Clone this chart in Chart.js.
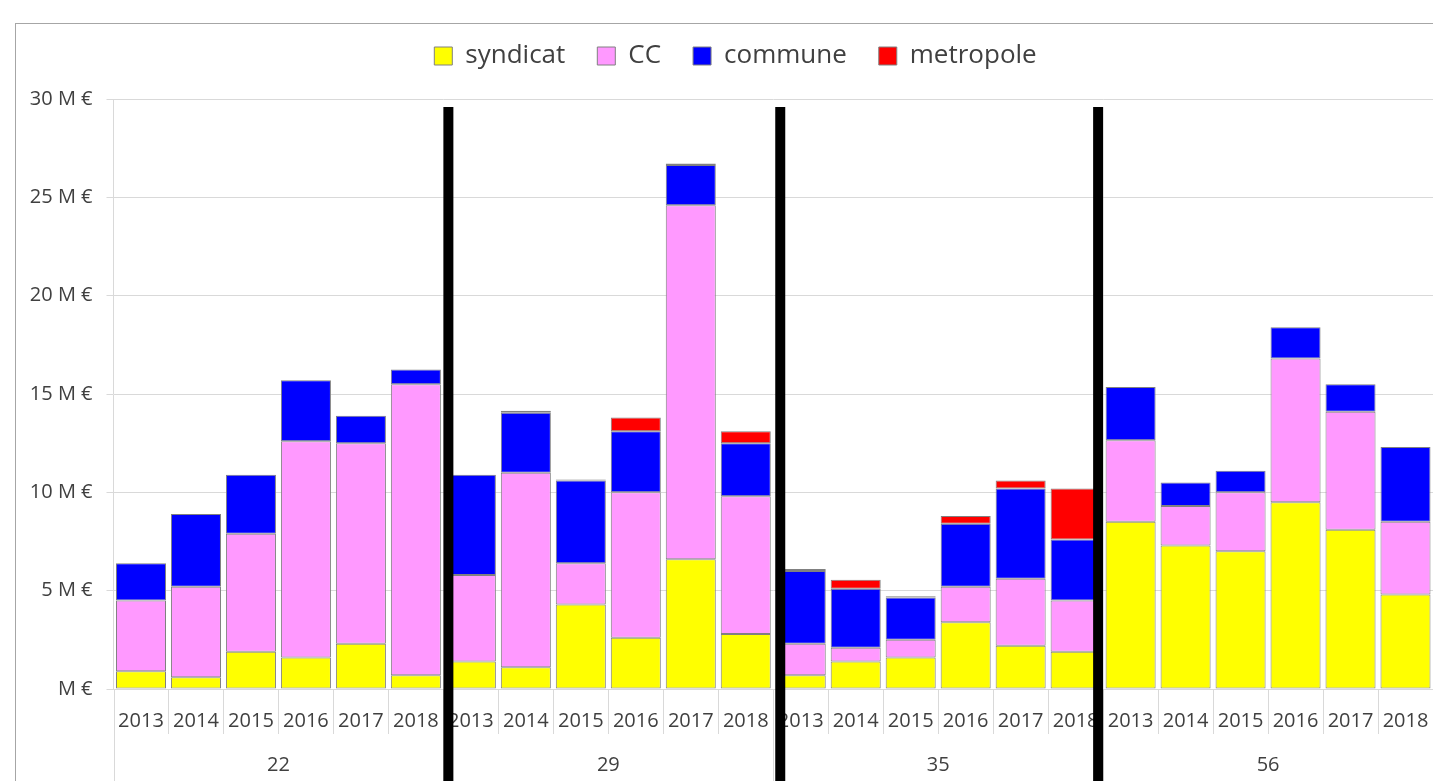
<!DOCTYPE html>
<html>
<head>
<meta charset="utf-8">
<title>Montants par département</title>
<script src="https://cdn.jsdelivr.net/npm/chart.js@4/dist/chart.umd.min.js"></script>
<style>
  html, body { margin: 0; padding: 0; background: #fff; overflow: hidden; }
  #frame { position: absolute; left: 15px; top: 23px; right: 0; bottom: 0;
           border-left: 1px solid #a6a6a6; border-top: 1px solid #a6a6a6; }
  #wrap { position: absolute; left: 0; top: 0; width: 1433px; height: 781px; }
</style>
</head>
<body>
<div id="frame"></div>
<div id="wrap"><canvas id="chart" width="1433" height="781"></canvas></div>
<script>
(function () {
  'use strict';

  // departements et annees
  var groups = ['22', '29', '35', '56'];
  var years = ['2013', '2014', '2015', '2016', '2017', '2018'];

  // montants en M € (22 | 29 | 35 | 56)
  var syndicat = [0.9, 0.6, 1.9, 1.6, 2.3, 0.7,
                  1.4, 1.1, 4.3, 2.6, 6.6, 2.8,
                  0.7, 1.4, 1.6, 3.4, 2.2, 1.9,
                  8.5, 7.3, 7.0, 9.5, 8.1, 4.8];
  var cc = [3.6, 4.6, 6.0, 11.0, 10.2, 14.8,
            4.4, 9.9, 2.1, 7.4, 18.0, 7.0,
            1.6, 0.7, 0.9, 1.8, 3.4, 2.6,
            4.15, 2.0, 3.0, 7.3, 6.0, 3.7];
  var commune = [1.9, 3.7, 3.0, 3.1, 1.4, 0.75,
                 5.1, 3.05, 4.2, 3.1, 2.05, 2.7,
                 3.7, 3.0, 2.15, 3.2, 4.6, 3.1,
                 2.7, 1.2, 1.1, 1.6, 1.4, 3.8];
  var metropole = [null, null, null, null, null, null,
                   null, 0.1, 0.05, 0.7, 0.07, 0.6,
                   0.1, 0.45, 0.07, 0.4, 0.4, 2.6,
                   null, null, null, null, null, null];

  var yMax = 30;
  var yStep = 5;

  var labels = [];
  groups.forEach(function () {
    years.forEach(function (y) { labels.push(y); });
  });

  var textColor = '#404040';
  var gridColor = '#d9d9d9';
  var fontFamily = '"Open Sans", "Noto Sans", sans-serif';

  function ds(label, data, color) {
    return {
      label: label,
      data: data,
      backgroundColor: color,
      borderColor: '#808080',
      borderWidth: 1,
      borderSkipped: false,
      stack: 's',
      barPercentage: 0.91,
      categoryPercentage: 1
    };
  }

  // espace sous la legende + legende un peu decalee a droite
  var legendSpace = {
    id: 'legendSpace',
    afterInit: function (chart) {
      var lg = chart.legend;
      if (!lg) return;
      var fit = lg.fit;
      lg.fit = function () {
        fit.call(this);
        this.height += 20;
      };
    },
    afterLayout: function (chart) {
      var lg = chart.legend;
      if (!lg) return;
      lg.left += 19;
      lg.right += 19;
    }
  };

  // separateurs, libelles de departement, barres noires
  var decor = {
    id: 'decor',
    afterDraw: function (chart) {
      var ctx = chart.ctx;
      var xs = chart.scales.x;
      var area = chart.chartArea;
      var n = labels.length;
      var per = years.length;
      var step = xs.getPixelForValue(1) - xs.getPixelForValue(0);
      function edge(i) {
        if (i === n) return xs.getPixelForValue(n - 1) + step / 2;
        return xs.getPixelForValue(i) - step / 2;
      }
      ctx.save();
      ctx.strokeStyle = gridColor;
      ctx.lineWidth = 1;
      for (var i = 0; i <= n; i++) {
        var x = Math.round(edge(i)) + 0.5;
        ctx.beginPath();
        ctx.moveTo(x, area.bottom);
        ctx.lineTo(x, i % per === 0 ? chart.height : area.bottom + 45);
        ctx.stroke();
      }
      ctx.fillStyle = textColor;
      ctx.font = '20px ' + fontFamily;
      ctx.textAlign = 'center';
      ctx.textBaseline = 'middle';
      groups.forEach(function (g, k) {
        var cx = (xs.getPixelForValue(k * per) + xs.getPixelForValue(k * per + per - 1)) / 2;
        ctx.fillText(g, cx, area.bottom + 76);
      });
      var shift = [5, 7, -5];
      ctx.fillStyle = '#000';
      for (var k = 1; k < groups.length; k++) {
        var bx = edge(k * per) + shift[k - 1];
        ctx.fillRect(bx - 5, area.top + 8, 10, chart.height - area.top - 8);
      }
      ctx.restore();
    }
  };

  new Chart(document.getElementById('chart'), {
    type: 'bar',
    data: {
      labels: labels,
      datasets: [
        ds('syndicat', syndicat, '#ffff00'),
        ds('CC', cc, '#ff99ff'),
        ds('commune', commune, '#0000ff'),
        ds('metropole', metropole, '#ff0000')
      ]
    },
    options: {
      responsive: false,
      animation: false,
      layout: { padding: { left: 0, right: 0, top: 11, bottom: 0 } },
      plugins: {
        tooltip: { enabled: false },
        legend: {
          position: 'top',
          labels: {
            boxWidth: 18,
            boxHeight: 18,
            padding: 32,
            color: textColor,
            font: { size: 26, family: fontFamily }
          }
        }
      },
      scales: {
        x: {
          stacked: true,
          grid: { display: false },
          border: { display: false },
          ticks: {
            color: textColor,
            font: { size: 20, family: fontFamily },
            padding: 12,
            maxRotation: 0,
            autoSkip: false
          },
          afterFit: function (scale) {
            scale.height = 92;
            scale.paddingLeft = 0;
            scale.paddingRight = 0;
          }
        },
        y: {
          stacked: true,
          min: 0,
          max: yMax,
          grid: { color: gridColor, lineWidth: 1, tickLength: 7 },
          border: { display: true, color: gridColor },
          ticks: {
            stepSize: yStep,
            padding: 14,
            color: textColor,
            font: { size: 20, family: fontFamily },
            callback: function (v) { return v === 0 ? 'M €' : v + ' M €'; }
          },
          afterFit: function (scale) { scale.width = 113.5; }
        }
      }
    },
    plugins: [legendSpace, decor]
  });
})();
</script>
</body>
</html>
